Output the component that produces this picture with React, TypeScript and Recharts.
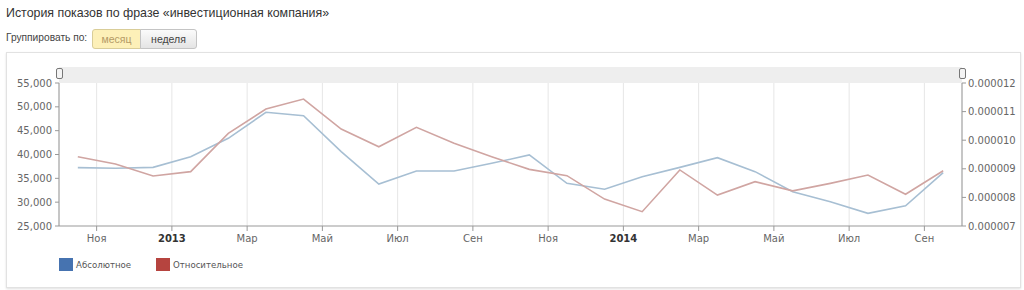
import type { ReactElement } from "react";
import { LineChart, Line, XAxis, YAxis, CartesianGrid } from "recharts";

// months from Oct 2012 to Sep 2014, one point per month
const months = [
  "2012-10", "2012-11", "2012-12", "2013-01", "2013-02", "2013-03",
  "2013-04", "2013-05", "2013-06", "2013-07", "2013-08", "2013-09",
  "2013-10", "2013-11", "2013-12", "2014-01", "2014-02", "2014-03",
  "2014-04", "2014-05", "2014-06", "2014-07", "2014-08", "2014-09",
];

// Абсолютное (left axis)
const absoluteValues = [
  37250, 37100, 37300, 39550, 43400, 48850, 48150, 40600, 33800, 36550, 36550, 38150,
  39900, 33950, 32700, 35350, 37300, 39330, 36400, 32200, 30100, 27650, 29250, 36200,
];

// Относительное (right axis)
const relativeValues = [
  0.00000942, 0.00000917, 0.00000875, 0.0000089, 0.00001024, 0.00001109,
  0.00001144, 0.00001039, 0.00000977, 0.00001045, 0.00000989, 0.00000942,
  0.00000898, 0.00000876, 0.00000794, 0.0000075, 0.00000896, 0.00000808,
  0.00000855, 0.00000823, 0.00000849, 0.00000878, 0.00000811, 0.00000893,
];

const xTicks = [1, 3, 5, 7, 9, 11, 13, 15, 17, 19, 21, 23];
const xTickLabels = ["Ноя", "2013", "Мар", "Май", "Июл", "Сен", "Ноя", "2014", "Мар", "Май", "Июл", "Сен"];
const leftTicks = [25000, 30000, 35000, 40000, 45000, 50000, 55000];
const rightTicks = [0.000007, 0.000008, 0.000009, 0.00001, 0.000011, 0.000012];

const data = months.map((m, i) => ({
  month: m,
  x: i + 0.5,
  abs: absoluteValues[i],
  rel: relativeValues[i],
}));

const axisFont = "'DejaVu Sans', Verdana, sans-serif";

function MonthTick(props: any): ReactElement {
  const { x, y, payload } = props;
  const idx = xTicks.indexOf(payload.value);
  const label = xTickLabels[idx] ?? "";
  const isYear = /^\d{4}$/.test(label);
  return (
    <text
      x={x}
      y={y}
      dy="0.71em"
      textAnchor="middle"
      fontFamily={axisFont}
      fontSize={10}
      fontWeight={isYear ? "bold" : "normal"}
      fill={isYear ? "#333" : "#666"}
    >
      {label}
    </text>
  );
}

const fmtThousands = (v: number) => v.toLocaleString("en-US");
const fmtSmall = (v: number) => v.toFixed(6);

export default function App(): ReactElement {
  return (
    <div
      style={{
        position: "absolute",
        left: 0,
        top: 0,
        width: 1024,
        height: 290,
        background: "#fff",
        fontFamily: "'Liberation Sans', Arial, sans-serif",
      }}
    >
      <div style={{ position: "absolute", left: 6, top: 6, fontSize: 12.4, color: "#333" }}>
        История показов по фразе «инвестиционная компания»
      </div>
      <div style={{ position: "absolute", left: 6, top: 32, fontSize: 10.2, color: "#444" }}>
        Группировать по:
      </div>
      <div
        style={{
          position: "absolute",
          left: 92,
          top: 29,
          width: 47,
          height: 18,
          background: "#fdf0b8",
          border: "1px solid #d9cd98",
          borderRadius: "3px 0 0 3px",
          fontSize: 10.5,
          color: "#b49a66",
          textAlign: "center",
          lineHeight: "18px",
        }}
      >
        месяц
      </div>
      <div
        style={{
          position: "absolute",
          left: 140,
          top: 29,
          width: 55,
          height: 18,
          background: "linear-gradient(#fbfbfb, #e4e4e4)",
          border: "1px solid #c4c4c4",
          borderRadius: "0 3px 3px 0",
          fontSize: 10.5,
          color: "#444",
          textAlign: "center",
          lineHeight: "18px",
        }}
      >
        неделя
      </div>

      {/* chart box */}
      <div
        style={{
          position: "absolute",
          left: 6,
          top: 52,
          width: 1013,
          height: 234,
          border: "1px solid #e2e2e2",
          boxShadow: "0 1px 2px rgba(0,0,0,0.12)",
        }}
      />
      {/* scroller strip */}
      <div style={{ position: "absolute", left: 59, top: 67, width: 903, height: 16, background: "#eeeeee" }} />
      <div
        style={{
          position: "absolute",
          left: 56,
          top: 68,
          width: 5,
          height: 9,
          border: "1px solid #777",
          borderRadius: 2,
          background: "#f4f4f4",
        }}
      />
      <div
        style={{
          position: "absolute",
          left: 959,
          top: 68,
          width: 5,
          height: 9,
          border: "1px solid #777",
          borderRadius: 2,
          background: "#f4f4f4",
        }}
      />

      <div style={{ position: "absolute", left: 0, top: 0 }}>
        <LineChart width={1024} height={290} data={data} margin={{ top: 83, right: 0, bottom: 0, left: 0 }}>
          <CartesianGrid vertical horizontal={false} stroke="#e6e6e6" />
          <XAxis
            dataKey="x"
            type="number"
            domain={[0, 24]}
            ticks={xTicks}
            interval={0}
            height={64}
            tick={<MonthTick />}
            tickSize={5}
            tickMargin={4}
            stroke="#999"
            allowDataOverflow
          />
          <YAxis
            yAxisId="left"
            orientation="left"
            width={59}
            domain={[25000, 55000]}
            ticks={leftTicks}
            interval={0}
            tickFormatter={fmtThousands}
            tickSize={4}
            tickMargin={3}
            stroke="#999"
            tick={{ fontSize: 10, fill: "#666", fontFamily: axisFont }}
          />
          <YAxis
            yAxisId="right"
            orientation="right"
            width={62}
            domain={[0.000007, 0.000012]}
            ticks={rightTicks}
            interval={0}
            tickFormatter={fmtSmall}
            tickSize={4}
            tickMargin={2}
            stroke="#999"
            tick={{ fontSize: 10, fill: "#666", fontFamily: axisFont }}
          />
          <Line
            yAxisId="left"
            type="linear"
            dataKey="abs"
            stroke="#a7bfd3"
            strokeWidth={1.6}
            dot={false}
            isAnimationActive={false}
          />
          <Line
            yAxisId="right"
            type="linear"
            dataKey="rel"
            stroke="#d0a5a2"
            strokeWidth={1.6}
            dot={false}
            isAnimationActive={false}
          />
        </LineChart>
      </div>

      {/* legend */}
      <div style={{ position: "absolute", left: 59, top: 258, width: 14, height: 13, background: "#4673b0" }} />
      <div
        style={{
          position: "absolute",
          left: 76,
          top: 259,
          fontSize: 8.6,
          color: "#555",
          fontFamily: axisFont,
          lineHeight: "12px",
        }}
      >
        Абсолютное
      </div>
      <div style={{ position: "absolute", left: 156, top: 258, width: 14, height: 13, background: "#b6443f" }} />
      <div
        style={{
          position: "absolute",
          left: 173,
          top: 259,
          fontSize: 8.6,
          color: "#555",
          fontFamily: axisFont,
          lineHeight: "12px",
        }}
      >
        Относительное
      </div>
    </div>
  );
}
